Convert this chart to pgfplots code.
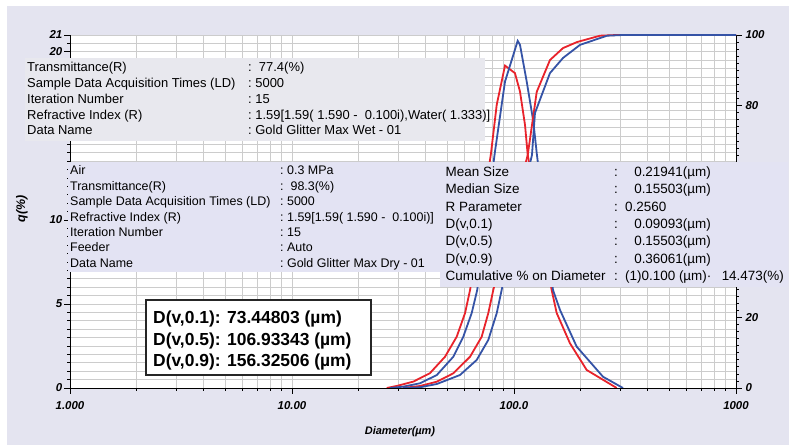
\documentclass[border=0pt]{standalone}
\usepackage{pgfplots}
\pgfplotsset{compat=1.18}
\usepackage{pgfplotstable}
\usepackage{fontspec}
\setmainfont{Liberation Sans}
\definecolor{bgc}{HTML}{E4E4F0}
\definecolor{boxa}{HTML}{E8E8EE}
\definecolor{boxb}{HTML}{E3E3F3}
\definecolor{rc}{HTML}{E8232B}
\definecolor{bc}{HTML}{3553A6}
\pgfplotstableread{
d q
26.7 0
29.6 0.12
35.2 0.38
41.8 0.88
48.9 1.86
55.2 3.05
60.2 4.46
63.4 5.83
70.3 9.5
78.8 13.97
83.6 16.85
91.1 19.18
101.0 18.73
106.4 17.64
112.1 15.65
115.3 13.87
131 9.8
147.8 5.83
155.7 4.46
178.7 2.66
212.6 1.07
290.1 0
}\redfreq
\pgfplotstableread{
d q
27.6 0
31.7 0.08
37.7 0.28
44.9 0.77
53.3 1.86
59.1 3.05
64.5 4.46
68.3 5.83
75.6 10.4
82.1 14.07
91.1 18.23
103.9 20.65
106.4 20.42
114.1 18.23
122.2 15.85
126.6 13.97
137.9 9.9
149.8 5.83
161.2 4.64
191.6 2.46
251.7 0.67
309.7 0
}\bluefreq
\pgfplotstableread{
d c
31.6 0
37.7 0.57
44.9 1.78
53.3 4.16
63.4 8.87
71.5 14.5
76.6 21.2
80.7 27.8
95.9 46.7
115.3 66.0
126.6 83.9
145.2 92.9
166.3 96.3
192.2 98.0
244.0 99.8
290 100
1000 100
}\redcum
\pgfplotstableread{
d c
31.6 0
37.7 0.2
44.9 1.13
57.1 3.68
67.9 7.93
76.6 13.6
83.6 21.2
88.0 27.8
102.1 47.0
120.5 66.0
124.3 77.9
145.2 89.2
166.3 93.5
198.3 97.2
262.4 99.8
310 100
1000 100
}\bluecum
\newcommand{\lrow}[4]{\node[anchor=base west, inner sep=0, font=\fontsize{#4}{#4}\selectfont] at (#1bp,#2bp) {#3};}
\newcommand{\rrow}[4]{\node[anchor=base east, inner sep=0, font=\fontsize{#4}{#4}\selectfont] at (#1bp,#2bp) {#3};}
\begin{document}
\begin{tikzpicture}
\fill[white] (0,0) rectangle (798bp,445bp);
\fill[bgc] (7bp,0) rectangle (789bp,439bp);
\begin{axis}[
  scale only axis, width=666bp, height=353bp,
  at={(70bp,57bp)}, anchor=south west,
  xmode=log, xmin=1, xmax=1000,
  tick align=outside,
  major tick length=6bp, minor tick length=3bp,
  tick style={black, line width=0.7bp},
  axis line style={black, line width=0.8bp},
  every tick label/.append style={font=\fontsize{11.5}{13}\selectfont\bfseries\itshape},
  axis background/.style={fill=white},
  ymin=0, ymax=21,
  axis x line*=bottom, axis y line*=left,
  xtick={1,10,100,1000}, xticklabels={1.000,10.00,100.0,1000},
  minor xtick={2,3,4,5,6,7,8,9,20,30,40,50,60,70,80,90,200,300,400,500,600,700,800,900},
  xticklabel style={yshift=-4bp},
  ytick={0,5,10,20,21}, yticklabels={0,5,10,20,21},
  yticklabel style={inner sep=1.5bp},
  minor ytick={0,0.5,...,21},
  xmajorgrids, xminorgrids, ymajorgrids, yminorgrids,
  major grid style={gray!40, line width=0.7bp},
  minor grid style={gray!40, line width=0.7bp},
]
\addplot[rc, line width=1.8bp] table[x=d, y=q] {\redfreq};
\addplot[bc, line width=1.8bp] table[x=d, y=q] {\bluefreq};
\end{axis}
\begin{axis}[
  scale only axis, width=666bp, height=353bp,
  at={(70bp,57bp)}, anchor=south west,
  xmode=log, xmin=1, xmax=1000,
  tick align=outside,
  major tick length=6bp, minor tick length=3bp,
  tick style={black, line width=0.7bp},
  axis line style={black, line width=0.8bp},
  every tick label/.append style={font=\fontsize{11.5}{13}\selectfont\bfseries\itshape},
  ymin=0, ymax=100,
  axis x line=none, axis y line*=right,
  ytick={0,20,40,60,80,100}, yticklabels={0,20,,,80,100},
  minor y tick num=9,
]
\addplot[rc, line width=1.8bp] table[x=d, y=c] {\redcum};
\addplot[bc, line width=1.8bp] table[x=d, y=c] {\bluecum};
\end{axis}
% top-left info box
\fill[boxa] (25bp,304.3bp) rectangle (485bp,386.5bp);
\lrow{27}{373.3}{Transmittance(R)}{13}
\lrow{27}{357.5}{Sample Data Acquisition Times (LD)}{13}
\lrow{27}{341.7}{Iteration Number}{13}
\lrow{27}{325.8}{Refractive Index (R)}{13}
\lrow{27}{310.0}{Data Name}{13}
\lrow{248}{373.3}{:\ \ 77.4(\%)}{13}
\lrow{248}{357.5}{:\ 5000}{13}
\lrow{248}{341.7}{:\ 15}{13}
\lrow{248}{325.8}{:\ 1.59[1.59( 1.590 -\ \ 0.100i),Water( 1.333)]}{13}
\lrow{248}{310.0}{:\ Gold Glitter Max Wet - 01}{13}
% middle-left info box
\fill[boxb] (68bp,173.3bp) rectangle (440bp,283.3bp);
\lrow{70}{270.0}{Air}{12.5}
\lrow{70}{254.6}{Transmittance(R)}{12.5}
\lrow{70}{239.2}{Sample Data Acquisition Times (LD)}{12.5}
\lrow{70}{223.8}{Refractive Index (R)}{12.5}
\lrow{70}{208.4}{Iteration Number}{12.5}
\lrow{70}{193.0}{Feeder}{12.5}
\lrow{70}{177.6}{Data Name}{12.5}
\lrow{280}{270.0}{:\ 0.3 MPa}{12.5}
\lrow{280}{254.6}{:\ \ 98.3(\%)}{12.5}
\lrow{280}{239.2}{:\ 5000}{12.5}
\lrow{280}{223.8}{:\ 1.59[1.59( 1.590 -\ \ 0.100i)]}{12.5}
\lrow{280}{208.4}{:\ 15}{12.5}
\lrow{280}{193.0}{:\ Auto}{12.5}
\lrow{280}{177.6}{:\ Gold Glitter Max Dry - 01}{12.5}
% right info box
\fill[boxb] (440bp,158.3bp) rectangle (788bp,282.7bp);
\lrow{445.5}{268.3}{Mean Size}{13.5}
\lrow{445.5}{251.0}{Median Size}{13.5}
\lrow{445.5}{233.7}{R Parameter}{13.5}
\lrow{445.5}{216.4}{D(v,0.1)}{13.5}
\lrow{445.5}{199.1}{D(v,0.5)}{13.5}
\lrow{445.5}{181.8}{D(v,0.9)}{13.5}
\lrow{445.5}{164.5}{Cumulative \% on Diameter}{13.5}
\lrow{614}{268.3}{:}{13.5}
\lrow{614}{251.0}{:}{13.5}
\lrow{614}{233.7}{:}{13.5}
\lrow{614}{216.4}{:}{13.5}
\lrow{614}{199.1}{:}{13.5}
\lrow{614}{181.8}{:}{13.5}
\lrow{614}{164.5}{:}{13.5}
\rrow{711}{268.3}{0.21941(µm)}{13.5}
\rrow{711}{251.0}{0.15503(µm)}{13.5}
\lrow{625}{233.7}{0.2560}{13.5}
\rrow{711}{216.4}{0.09093(µm)}{13.5}
\rrow{711}{199.1}{0.15503(µm)}{13.5}
\rrow{711}{181.8}{0.36061(µm)}{13.5}
\lrow{625}{164.5}{(1)0.100 (µm)·}{13.5}
\rrow{784}{164.5}{14.473(\%)}{13.5}
% D-value box
\draw[fill=white, draw=black!85, line width=1.6bp] (146bp,70bp) rectangle (371bp,145bp);
\node[anchor=base west, inner sep=0, font=\fontsize{17.5}{17.5}\selectfont\bfseries] at (153bp,121bp) {D(v,0.1): 73.44803 (µm)};
\node[anchor=base west, inner sep=0, font=\fontsize{17.5}{17.5}\selectfont\bfseries] at (153bp,99bp) {D(v,0.5): 106.93343 (µm)};
\node[anchor=base west, inner sep=0, font=\fontsize{17.5}{17.5}\selectfont\bfseries] at (153bp,78bp) {D(v,0.9): 156.32506 (µm)};
% axis titles
\node[rotate=90, font=\fontsize{12.5}{12.5}\selectfont\bfseries\itshape] at (22bp,236bp) {q(\%)};
\node[font=\fontsize{11}{12}\selectfont\bfseries\itshape] at (400bp,13bp) {Diameter(µm)};
\end{tikzpicture}
\end{document}
